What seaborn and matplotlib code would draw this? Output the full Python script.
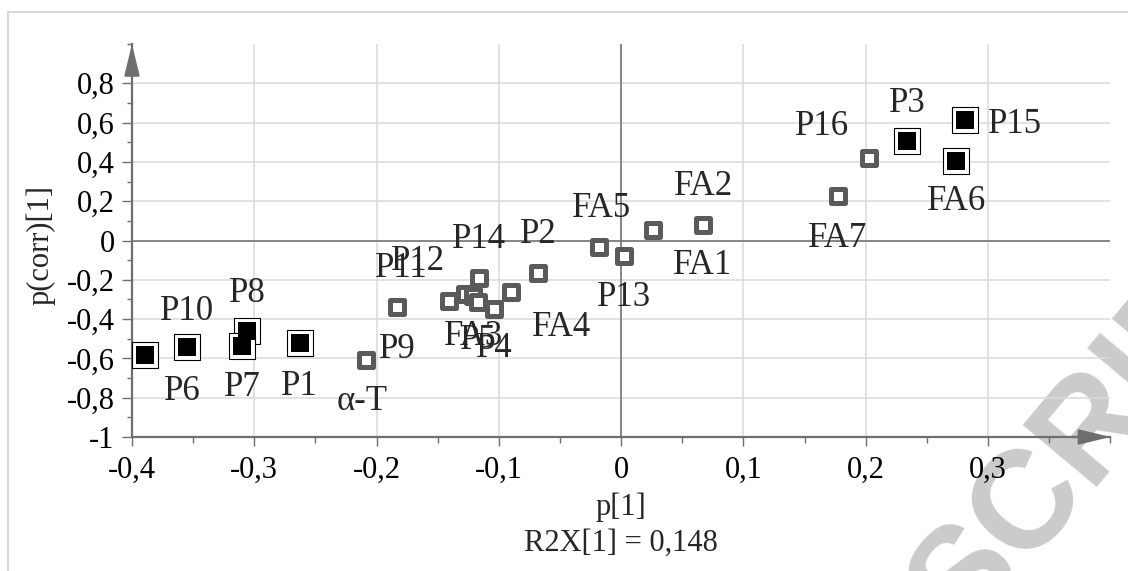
import numpy as np
import pandas as pd
import matplotlib
matplotlib.use("Agg")
import matplotlib.pyplot as plt
import seaborn as sns
from matplotlib.patches import Rectangle
from matplotlib.ticker import MultipleLocator, FuncFormatter

# loadings
labels = ["P6", "P10", "P8", "P7", "P1", "α-T", "P9", "P11", "P12", "FA3",
          "P14", "P5", "P4", "FA4", "P2", "FA5", "P13", "FA1", "FA2", "FA7",
          "P16", "P3", "FA6", "P15"]
p1 = [-0.389, -0.355, -0.306, -0.310, -0.263, -0.209, -0.183, -0.141, -0.128, -0.121,
      -0.116, -0.117, -0.104, -0.090, -0.068, -0.018, 0.002, 0.026, 0.067, 0.177,
      0.203, 0.234, 0.274, 0.281]
pcorr = [-0.585, -0.543, -0.463, -0.539, -0.523, -0.606, -0.339, -0.310, -0.271, -0.283,
         -0.192, -0.314, -0.351, -0.263, -0.166, -0.034, -0.081, 0.054, 0.081, 0.226,
         0.419, 0.504, 0.407, 0.611]
group = ["sig", "sig", "sig", "sig", "sig", "ns", "ns", "ns", "ns", "ns",
         "ns", "ns", "ns", "ns", "ns", "ns", "ns", "ns", "ns", "ns",
         "ns", "sig", "sig", "sig"]

# where each label sits relative to its point (pixels, right / down)
label_offsets = {
    "P6": (37, 32), "P10": (0, -40), "P8": (0, -42), "P7": (0, 37), "P1": (0, 39),
    "α-T": (-3, 38), "P9": (0, 38), "P11": (-47, -37), "P12": (-47, -36),
    "FA3": (0, 36), "P14": (0, -43), "P5": (0, 34), "P4": (0, 35), "FA4": (50, 31),
    "P2": (0, -43), "FA5": (2, -43), "P13": (0, 37), "FA1": (50, 32), "FA2": (0, -42),
    "FA7": (0, 38), "P16": (-47, -36), "P3": (0, -42), "FA6": (0, 37), "P15": (50, 0),
}

df = pd.DataFrame({"label": labels, "p1": p1, "pcorr": pcorr, "group": group})

sns.set_style("ticks")
plt.rcParams["font.family"] = ["Liberation Serif", "DejaVu Serif"]

axis_col = "#6e6e6e"
fig = plt.figure(figsize=(11.28, 5.71), dpi=100)
ax = fig.add_axes([0.117, 0.2347, 0.8674, 0.6882])
ax.patch.set_alpha(0)

gray = df[df["group"] == "ns"]
black = df[df["group"] == "sig"]
sns.scatterplot(data=gray, x="p1", y="pcorr", marker="s", s=102, color="white",
                edgecolor="#5a5a5a", linewidth=3.6, ax=ax, zorder=3, legend=False)
sns.scatterplot(data=black, x="p1", y="pcorr", marker="s", s=350, color="white",
                edgecolor="black", linewidth=0.8, ax=ax, zorder=3, legend=False)
sns.scatterplot(data=black, x="p1", y="pcorr", marker="s", s=187, color="black",
                edgecolor="black", linewidth=0, ax=ax, zorder=4, legend=False)

for _, r in df.iterrows():
    dx, dy = label_offsets[r["label"]]
    ax.annotate(r["label"], (r["p1"], r["pcorr"]), xytext=(dx, -dy),
                textcoords="offset pixels", ha="center", va="center_baseline",
                fontsize=25, zorder=5)

ax.set_xlim(-0.4, 0.4)
ax.set_ylim(-1, 1.0)
ax.set_xticks(np.round(np.arange(-0.4, 0.31, 0.1), 2))
ax.set_yticks(np.round(np.arange(-1, 0.81, 0.2), 2))
ax.xaxis.set_minor_locator(MultipleLocator(0.05))
ax.yaxis.set_minor_locator(MultipleLocator(0.1))


def comma(v, _):
    if abs(v) < 1e-9:
        return "0"
    return ("%g" % round(v, 2)).replace(".", ",")


ax.xaxis.set_major_formatter(FuncFormatter(comma))
ax.yaxis.set_major_formatter(FuncFormatter(comma))
ax.tick_params(axis="both", which="both", color=axis_col, width=1.0, labelsize=22,
               labelcolor="black")
ax.tick_params(axis="x", which="major", length=6.5, pad=7)
ax.tick_params(axis="x", which="minor", length=4)
ax.tick_params(axis="y", which="major", length=7.5, pad=5)
ax.tick_params(axis="y", which="minor", length=3.8)
ax.set_xlabel("")
ax.set_ylabel("")

ax.grid(True, which="major", color="#dadada", lw=1.1)
ax.set_axisbelow(True)
ax.axhline(0, color="#777777", lw=1.2, zorder=1.5)
ax.axvline(0, color="#777777", lw=1.2, zorder=1.5)

for s in ["top", "right"]:
    ax.spines[s].set_visible(False)
for s in ["left", "bottom"]:
    ax.spines[s].set_color(axis_col)
    ax.spines[s].set_linewidth(1.6)

arrow = dict(arrowstyle="-|>,head_length=0.97,head_width=0.235", mutation_scale=20,
             color=axis_col, lw=1.6, shrinkA=0, shrinkB=0)
ax.annotate("", xy=(1, 0), xytext=(0.96, 0), xycoords="axes fraction",
            arrowprops=arrow, annotation_clip=False)
ax.annotate("", xy=(0, 1), xytext=(0, 0.94), xycoords="axes fraction",
            arrowprops=arrow, annotation_clip=False)

fig.text(41 / 1128, 1 - 245 / 571, "p(corr)[1]", rotation=90, ha="center",
         va="center", fontsize=22)
fig.text(621 / 1128, 1 - 507 / 571, "p[1]", ha="center", va="center", fontsize=22)
fig.text(621 / 1128, 1 - 543 / 571, "R2X[1] = 0,148", ha="center", va="center",
         fontsize=22)

# light page frame and watermark
fig.patches.append(Rectangle((8 / 1128, -0.1), 1.2, 1.1 - 12 / 571,
                             transform=fig.transFigure, fill=False,
                             edgecolor="#d9d9d9", lw=1.5, zorder=-2))
fig.text(0.8564, -0.1156, "SCRIPT", rotation=50, rotation_mode="anchor",
         ha="left", va="baseline", fontsize=100, fontweight="bold",
         family="Liberation Sans", color="#cbcbcb", zorder=-1)

fig.savefig("out.png", dpi=100)
